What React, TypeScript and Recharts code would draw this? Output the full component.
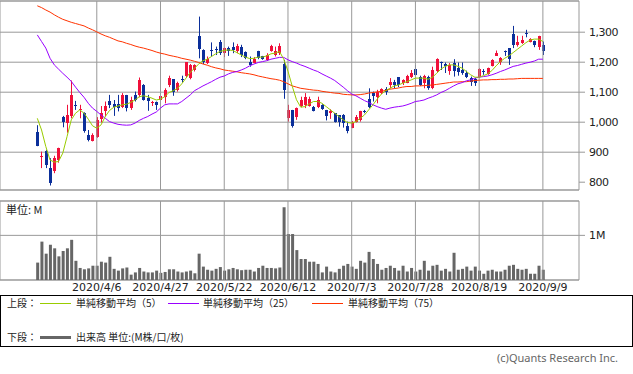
import React from 'react'
import { ComposedChart, Bar, Line, XAxis, YAxis, CartesianGrid, ReferenceArea, ReferenceLine } from 'recharts'

// x positions are trading-day indexes (0 = 2020/3/16 ... 119 = 2020/9/9)
const tickIdx = [14, 29, 44, 59, 74, 89, 104, 119]
const tickLabels = ['2020/4/6', '2020/4/27', '2020/5/22', '2020/6/12', '2020/7/3', '2020/7/28', '2020/8/19', '2020/9/9']

const open = [
  968, 883, 905, 849, 839, 875, 1019, 999, 1022, 1058,
  1041, 1032, 958, 939, 950, 1011, 1036, 1072, 1061, 1060,
  1050, 1091, 1047, 1091, 1091, 1124, 1080, 1063, 1066, 1075,
  1085, 1124, 1143, 1108, 1144, 1155, 1147, 1174, 1288, 1241,
  1199, 1241, 1244, 1269, 1232, 1247, 1252, 1236, 1250, 1233,
  1202, 1199, 1238, 1221, 1208, 1239, 1224, 1230, 1194, 1013,
  1041, 1019, 1054, 1058, 1054, 1052, 1050, 1058, 1041, 1030,
  1030, 1024, 1024, 986, 982, 1002, 1008, 1039, 1077, 1099,
  1085, 1099, 1110, 1124, 1135, 1150, 1130, 1132, 1150, 1178,
  1150, 1132, 1152, 1113, 1169, 1200, 1194, 1169, 1197, 1180,
  1174, 1165, 1147, 1143, 1150, 1170, 1161, 1188, 1221, 1202,
  1236, 1247, 1294, 1258, 1263, 1299, 1269, 1272, 1252, 1258,
]
const high = [
  990, 902, 908, 880, 888, 915, 1021, 1058, 1139, 1071,
  1058, 1033, 974, 963, 1017, 1054, 1069, 1091, 1074, 1091,
  1097, 1091, 1085, 1102, 1149, 1127, 1091, 1071, 1069, 1091,
  1113, 1155, 1143, 1135, 1155, 1199, 1194, 1193, 1352, 1243,
  1219, 1266, 1252, 1274, 1249, 1252, 1266, 1261, 1258, 1236,
  1219, 1217, 1238, 1221, 1230, 1258, 1252, 1263, 1208, 1058,
  1041, 1049, 1085, 1097, 1085, 1054, 1085, 1060, 1041, 1043,
  1030, 1024, 1027, 1002, 1004, 1024, 1038, 1041, 1113, 1102,
  1108, 1113, 1117, 1147, 1141, 1150, 1143, 1158, 1174, 1191,
  1155, 1158, 1155, 1185, 1213, 1202, 1199, 1197, 1210, 1199,
  1199, 1172, 1152, 1147, 1180, 1177, 1182, 1210, 1239, 1217,
  1239, 1247, 1321, 1288, 1288, 1308, 1280, 1272, 1288, 1269,
]
const low = [
  920, 847, 847, 789, 830, 865, 983, 965, 1013, 1041,
  1013, 965, 936, 936, 948, 999, 1019, 1047, 1021, 1036,
  1047, 1036, 1041, 1069, 1083, 1072, 1038, 1054, 1041, 1069,
  1063, 1117, 1088, 1102, 1132, 1150, 1143, 1169, 1213, 1194,
  1194, 1219, 1224, 1224, 1217, 1221, 1230, 1230, 1217, 1210,
  1185, 1197, 1210, 1208, 1204, 1235, 1219, 1224, 1078, 1002,
  982, 1008, 1050, 1047, 1052, 1036, 1047, 1041, 1006, 1011,
  999, 985, 982, 963, 980, 999, 1002, 1030, 1047, 1069,
  1063, 1094, 1091, 1113, 1113, 1117, 1124, 1130, 1147, 1155,
  1121, 1113, 1108, 1110, 1166, 1174, 1164, 1158, 1152, 1155,
  1158, 1147, 1121, 1121, 1147, 1158, 1158, 1186, 1221, 1191,
  1221, 1191, 1247, 1252, 1261, 1283, 1266, 1250, 1241, 1224,
]
const close = [
  922, 888, 856, 797, 880, 914, 1000, 1024, 1091, 1056,
  1045, 971, 941, 958, 1008, 1032, 1054, 1058, 1052, 1047,
  1091, 1047, 1074, 1074, 1141, 1074, 1069, 1067, 1058, 1088,
  1108, 1147, 1102, 1130, 1142, 1199, 1191, 1191, 1244, 1202,
  1210, 1238, 1242, 1230, 1247, 1236, 1241, 1254, 1224, 1213,
  1191, 1210, 1213, 1210, 1224, 1254, 1236, 1254, 1106, 1041,
  988, 1047, 1074, 1085, 1077, 1038, 1074, 1043, 1021, 1038,
  1002, 1002, 999, 972, 1002, 1019, 1036, 1033, 1050, 1088,
  1102, 1110, 1102, 1135, 1124, 1124, 1141, 1155, 1165, 1158,
  1124, 1155, 1113, 1174, 1210, 1197, 1186, 1191, 1172, 1166,
  1163, 1150, 1135, 1132, 1177, 1168, 1180, 1208, 1230, 1213,
  1234, 1210, 1258, 1269, 1274, 1297, 1277, 1258, 1288, 1236,
]
const ma5 = [
  1013, 974, 919, 874, 867, 869, 897, 952, 1008, 1030,
  1041, 1030, 1010, 988, 980, 991, 1019, 1039, 1050, 1054,
  1058, 1060, 1066, 1074, 1085, 1088, 1085, 1080, 1074, 1077,
  1085, 1099, 1105, 1113, 1128, 1147, 1166, 1180, 1194, 1205,
  1210, 1219, 1228, 1236, 1239, 1241, 1239, 1232, 1224, 1217,
  1212, 1213, 1217, 1217, 1221, 1228, 1230, 1236, 1210, 1170,
  1120, 1075, 1050, 1052, 1061, 1069, 1069, 1063, 1052, 1041,
  1030, 1019, 1008, 999, 997, 1002, 1013, 1024, 1041, 1058,
  1077, 1094, 1105, 1113, 1121, 1124, 1130, 1135, 1141, 1147,
  1147, 1147, 1143, 1150, 1163, 1177, 1186, 1191, 1191, 1186,
  1180, 1169, 1158, 1150, 1150, 1155, 1161, 1172, 1188, 1202,
  1213, 1221, 1232, 1243, 1254, 1265, 1274, 1277, 1277, 1269,
]
const ma25 = [
  1291, 1269, 1247, 1213, 1191, 1177, 1163, 1150, 1136, 1117,
  1099, 1083, 1063, 1047, 1036, 1024, 1013, 1002, 997, 993,
  991, 990, 991, 997, 1006, 1013, 1019, 1027, 1034, 1047,
  1058, 1061, 1061, 1061, 1069, 1080, 1091, 1105, 1113, 1121,
  1128, 1135, 1143, 1150, 1154, 1161, 1166, 1169, 1174, 1180,
  1188, 1194, 1199, 1202, 1205, 1210, 1213, 1216, 1216, 1208,
  1202, 1197, 1191, 1186, 1180, 1174, 1169, 1161, 1154, 1147,
  1139, 1128, 1117, 1105, 1094, 1088, 1080, 1072, 1066, 1058,
  1052, 1047, 1043, 1047, 1050, 1052, 1054, 1058, 1063, 1069,
  1071, 1074, 1080, 1085, 1091, 1099, 1105, 1113, 1121, 1128,
  1132, 1138, 1141, 1147, 1150, 1152, 1154, 1158, 1163, 1169,
  1174, 1180, 1186, 1189, 1193, 1197, 1200, 1204, 1210, 1210,
]
const ma75 = [
  1388, 1382, 1374, 1367, 1358, 1350, 1343, 1338, 1333, 1329,
  1325, 1321, 1314, 1308, 1301, 1294, 1288, 1283, 1277, 1271,
  1268, 1263, 1259, 1254, 1250, 1247, 1243, 1239, 1234, 1230,
  1227, 1223, 1220, 1217, 1213, 1210, 1207, 1203, 1199, 1194,
  1190, 1185, 1181, 1178, 1174, 1172, 1170, 1168, 1165, 1163,
  1161, 1158, 1154, 1151, 1148, 1145, 1143, 1140, 1135, 1128,
  1121, 1117, 1113, 1111, 1109, 1107, 1106, 1103, 1101, 1099,
  1097, 1096, 1093, 1092, 1091, 1091, 1092, 1094, 1097, 1099,
  1101, 1103, 1106, 1110, 1112, 1114, 1117, 1119, 1119, 1121,
  1121, 1122, 1123, 1124, 1126, 1128, 1130, 1132, 1134, 1134,
  1135, 1135, 1137, 1139, 1140, 1141, 1141, 1142, 1142, 1143,
  1143, 1144, 1144, 1145, 1146, 1146, 1146, 1146, 1146, 1146,
]
// volume in millions
const vol = [
  0.39, 0.86, 0.59, 0.79, 0.71, 0.53, 0.65, 0.71, 0.9, 0.43,
  0.27, 0.24, 0.26, 0.32, 0.32, 0.41, 0.39, 0.52, 0.25, 0.21,
  0.26, 0.28, 0.12, 0.17, 0.27, 0.19, 0.17, 0.17, 0.21, 0.16,
  0.18, 0.24, 0.24, 0.19, 0.17, 0.19, 0.21, 0.15, 0.59, 0.3,
  0.23, 0.21, 0.25, 0.29, 0.21, 0.24, 0.27, 0.24, 0.22, 0.23,
  0.23, 0.19, 0.27, 0.32, 0.27, 0.27, 0.26, 0.28, 1.63, 1.03,
  1.03, 0.67, 0.47, 0.47, 0.41, 0.41, 0.36, 0.17, 0.3, 0.19,
  0.17, 0.25, 0.32, 0.36, 0.3, 0.25, 0.43, 0.39, 0.63, 0.47,
  0.36, 0.23, 0.27, 0.32, 0.27, 0.21, 0.32, 0.19, 0.27, 0.19,
  0.23, 0.43, 0.21, 0.32, 0.34, 0.21, 0.25, 0.19, 0.61, 0.23,
  0.25, 0.3, 0.21, 0.3, 0.21, 0.14, 0.21, 0.23, 0.19, 0.19,
  0.23, 0.32, 0.34, 0.25, 0.23, 0.25, 0.14, 0.14, 0.32, 0.23,
]

const priceTicks = [800, 900, 1000, 1100, 1200, 1300]
const volTicks = [1]

const RED = '#f0103a'
const BLUE = '#0b2f9a'
const GRID = '#999999'
const FONT = '"DejaVu Sans", sans-serif'
const JP_FONT = '"Noto Sans CJK JP", "DejaVu Sans", sans-serif'

const X_DOMAIN: [number, number] = [-8.78, 127.5]
const PRICE_DOMAIN: [number, number] = [774, 1404]
const VOL_DOMAIN: [number, number] = [0, 1.77]

const rows = open.map((o, i) => ({
  i,
  open: o,
  high: high[i],
  low: low[i],
  close: close[i],
  range: [low[i], high[i]],
  ma5: ma5[i],
  ma25: ma25[i],
  ma75: ma75[i],
  vol: vol[i],
}))

function Candle(props: any) {
  const { x, y, width, height, payload } = props
  if (!payload || x == null) return null
  const { open: o, close: c, high: h, low: l } = payload
  const top = Math.min(y, y + height)
  const bottom = Math.max(y, y + height)
  const ppu = h > l ? (bottom - top) / (h - l) : 0
  const yOf = (v: number) => top + (h - v) * ppu
  const cx = Math.floor(x + width / 2) + 0.5
  const color = c >= o ? RED : BLUE
  const bodyTop = Math.round(yOf(Math.max(o, c)))
  const bodyH = Math.max(1, Math.round(yOf(Math.min(o, c))) - bodyTop)
  return (
    <g>
      <line x1={cx} x2={cx} y1={top} y2={bottom} stroke={color} strokeWidth={1} />
      <rect x={cx - 1.5} y={bodyTop} width={3} height={bodyH} fill={color} />
    </g>
  )
}

const tickStyle = { fontSize: 11, fontFamily: FONT, fill: '#222' }

export default function App() {
  return (
    <div style={{ position: 'absolute', left: 0, top: 0, width: 633, height: 374, background: '#fff', overflow: 'hidden' }}>
      <div style={{ position: 'absolute', left: 0, top: 0 }}>
        <ComposedChart width={633} height={191} data={rows} margin={{ top: 1, right: 0, bottom: 1, left: 0 }}>
          <CartesianGrid stroke={GRID} vertical={false} />
          <XAxis
            type="number"
            dataKey="i"
            domain={X_DOMAIN}
            ticks={tickIdx}
            allowDataOverflow
            height={0}
            tick={false}
            tickLine={false}
            axisLine={false}
          />
          <YAxis
            orientation="right"
            width={54}
            domain={PRICE_DOMAIN}
            ticks={priceTicks}
            allowDataOverflow
            axisLine={false}
            tickLine={{ stroke: GRID }}
            tickSize={6}
            tickMargin={4}
            tick={{ ...tickStyle, letterSpacing: -0.5 }}
            tickFormatter={(v: number) => v.toLocaleString('en-US')}
          />
          {tickIdx.map((t) => (
            <ReferenceLine key={t} x={t} stroke={GRID} strokeWidth={1} />
          ))}
          <ReferenceArea x1={X_DOMAIN[0]} x2={X_DOMAIN[1]} y1={PRICE_DOMAIN[0]} y2={PRICE_DOMAIN[1]} fill="none" stroke={GRID} strokeOpacity={1} />
          <Line dataKey="ma75" type="linear" stroke="#ff3300" strokeWidth={1} dot={false} activeDot={false} isAnimationActive={false} />
          <Line dataKey="ma25" type="linear" stroke="#9900ff" strokeWidth={1} dot={false} activeDot={false} isAnimationActive={false} />
          <Bar dataKey="range" barSize={3} shape={Candle} isAnimationActive={false} />
          <Line dataKey="ma5" type="linear" stroke="#99cc00" strokeWidth={1} dot={false} activeDot={false} isAnimationActive={false} />
        </ComposedChart>
      </div>

      <div style={{ position: 'absolute', left: 0, top: 200 }}>
        <ComposedChart width={633} height={100} data={rows} margin={{ top: 1, right: 0, bottom: 0, left: 0 }}>
          <CartesianGrid stroke={GRID} vertical={false} />
          <XAxis
            type="number"
            dataKey="i"
            domain={X_DOMAIN}
            ticks={tickIdx}
            allowDataOverflow
            height={20}
            tickLine={false}
            axisLine={false}
            tickSize={0}
            tickMargin={3}
            tick={tickStyle}
            tickFormatter={(v: number) => tickLabels[tickIdx.indexOf(v)] ?? ''}
          />
          <YAxis
            orientation="right"
            width={54}
            domain={VOL_DOMAIN}
            ticks={volTicks}
            allowDataOverflow
            axisLine={false}
            tickLine={{ stroke: GRID }}
            tickSize={6}
            tickMargin={4}
            tick={tickStyle}
            tickFormatter={(v: number) => `${v}M`}
          />
          {tickIdx.map((t) => (
            <ReferenceLine key={t} x={t} stroke={GRID} strokeWidth={1} />
          ))}
          <ReferenceArea x1={X_DOMAIN[0]} x2={X_DOMAIN[1]} y1={VOL_DOMAIN[0]} y2={VOL_DOMAIN[1]} fill="none" stroke={GRID} strokeOpacity={1} />
          <Bar dataKey="vol" barSize={3} fill="#666666" isAnimationActive={false} />
        </ComposedChart>
        <div style={{ position: 'absolute', left: 6, top: 2, fontSize: 11, fontFamily: JP_FONT, color: '#222', lineHeight: '14px' }}>単位: M</div>
      </div>

      <div
        style={{
          position: 'absolute',
          left: 0,
          top: 295,
          width: 633,
          height: 52,
          boxSizing: 'border-box',
          border: '1px solid #000',
          fontFamily: JP_FONT,
          fontSize: 10,
          color: '#222',
          lineHeight: '14px',
        }}
      >
        <div style={{ position: 'absolute', left: 6, top: 0 }}>上段：</div>
        <div style={{ position: 'absolute', left: 39, top: 7, width: 31, height: 1, background: '#99cc00' }} />
        <div style={{ position: 'absolute', left: 75, top: 0 }}>単純移動平均（5）</div>
        <div style={{ position: 'absolute', left: 167, top: 7, width: 31, height: 1, background: '#9900ff' }} />
        <div style={{ position: 'absolute', left: 202, top: 0 }}>単純移動平均（25）</div>
        <div style={{ position: 'absolute', left: 311, top: 7, width: 31, height: 1, background: '#ff3300' }} />
        <div style={{ position: 'absolute', left: 347, top: 0 }}>単純移動平均（75）</div>
        <div style={{ position: 'absolute', left: 6, top: 34 }}>下段：</div>
        <div style={{ position: 'absolute', left: 39, top: 40, width: 31, height: 3, background: '#666' }} />
        <div style={{ position: 'absolute', left: 75, top: 34 }}>出来高 単位:(M株/口/枚)</div>
      </div>

      <div style={{ position: 'absolute', left: 497, top: 351, fontSize: 11, fontFamily: '"Noto Sans", sans-serif', color: '#666', lineHeight: '14px' }}>
        (c)Quants Research Inc.
      </div>
    </div>
  )
}
